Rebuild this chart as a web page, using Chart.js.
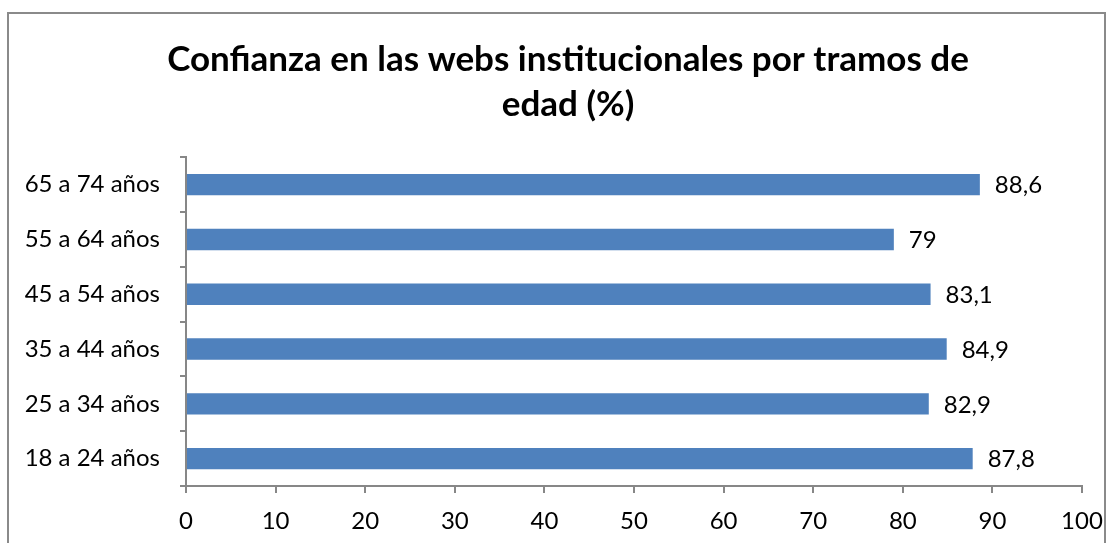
<!DOCTYPE html>
<html lang="es">
<head>
  <meta charset="UTF-8" />
  <title>Confianza en las webs institucionales por tramos de edad</title>
  <script src="https://cdn.jsdelivr.net/npm/chart.js"></script>
  <style>
    html, body { margin: 0; padding: 0; background: #fff; overflow: hidden; }
    #wrap { position: relative; width: 1115px; height: 543px; }
    #frame {
      position: absolute; left: 7px; top: 12px; width: 1099px; height: 600px;
      border: 2px solid #8a8a8a; box-sizing: border-box;
    }
    canvas { position: absolute; left: 0; top: 0; }
  </style>
</head>
<body>
  <div id="wrap">
    <div id="frame"></div>
    <canvas id="chart" width="1115" height="543"></canvas>
  </div>

  <script>
    // categorías de arriba a abajo
    const tramos = ['65 a 74 años', '55 a 64 años', '45 a 54 años', '35 a 44 años', '25 a 34 años', '18 a 24 años'];
    const confianza = [88.6, 79, 83.1, 84.9, 82.9, 87.8];
    const etiquetas = ['88,6', '79', '83,1', '84,9', '82,9', '87,8'];
    const titulo = ['Confianza en las webs institucionales por tramos de', 'edad (%)'];

    const FONT = 'Lato, Calibri, sans-serif';
    const AXIS = '#878787';

    // etiquetas de valor a la derecha de cada barra
    const valueLabels = {
      id: 'valueLabels',
      afterLayout(chart) {
        // el título original está algo desplazado a la derecha
        if (chart.titleBlock) chart.titleBlock.left = 54;
      },
      afterDatasetsDraw(chart) {
        const ctx = chart.ctx;
        const meta = chart.getDatasetMeta(0);
        ctx.save();
        ctx.font = '24px ' + FONT;
        ctx.fillStyle = '#000';
        ctx.textAlign = 'left';
        ctx.textBaseline = 'middle';
        meta.data.forEach((bar, i) => {
          ctx.fillText(etiquetas[i], bar.x + 15, bar.y + 1);
        });
        ctx.restore();
      }
    };

    const ctx = document.getElementById('chart').getContext('2d');
    new Chart(ctx, {
      type: 'bar',
      data: {
        labels: tramos,
        datasets: [{
          data: confianza,
          backgroundColor: '#4f81bd',
          barPercentage: 0.39,
          categoryPercentage: 1
        }]
      },
      options: {
        indexAxis: 'y',
        responsive: false,
        animation: false,
        layout: { padding: { left: 0, right: 33, top: 0, bottom: 0 } },
        plugins: {
          legend: { display: false },
          tooltip: { enabled: false },
          title: {
            display: true,
            text: titulo,
            color: '#000',
            font: { family: FONT, size: 35, weight: 'bold', lineHeight: 1.29 },
            padding: { top: 37, bottom: 30 }
          }
        },
        scales: {
          x: {
            min: 0, max: 100,
            ticks: { stepSize: 10, color: '#000', font: { family: FONT, size: 24 }, padding: 14 },
            grid: { drawOnChartArea: false, drawTicks: true, tickLength: 7, color: AXIS, lineWidth: 2 },
            border: { color: AXIS, width: 2 },
            afterFit(s) { s.height = 57; s.paddingLeft = 0; s.paddingRight = 0; }
          },
          y: {
            ticks: { color: '#000', font: { family: FONT, size: 24 }, padding: 20 },
            grid: { drawOnChartArea: false, drawTicks: true, tickLength: 6, color: AXIS, lineWidth: 2, offset: true },
            border: { color: AXIS, width: 2 },
            afterFit(s) { s.width = 186; }
          }
        }
      },
      plugins: [valueLabels]
    });
  </script>
</body>
</html>
